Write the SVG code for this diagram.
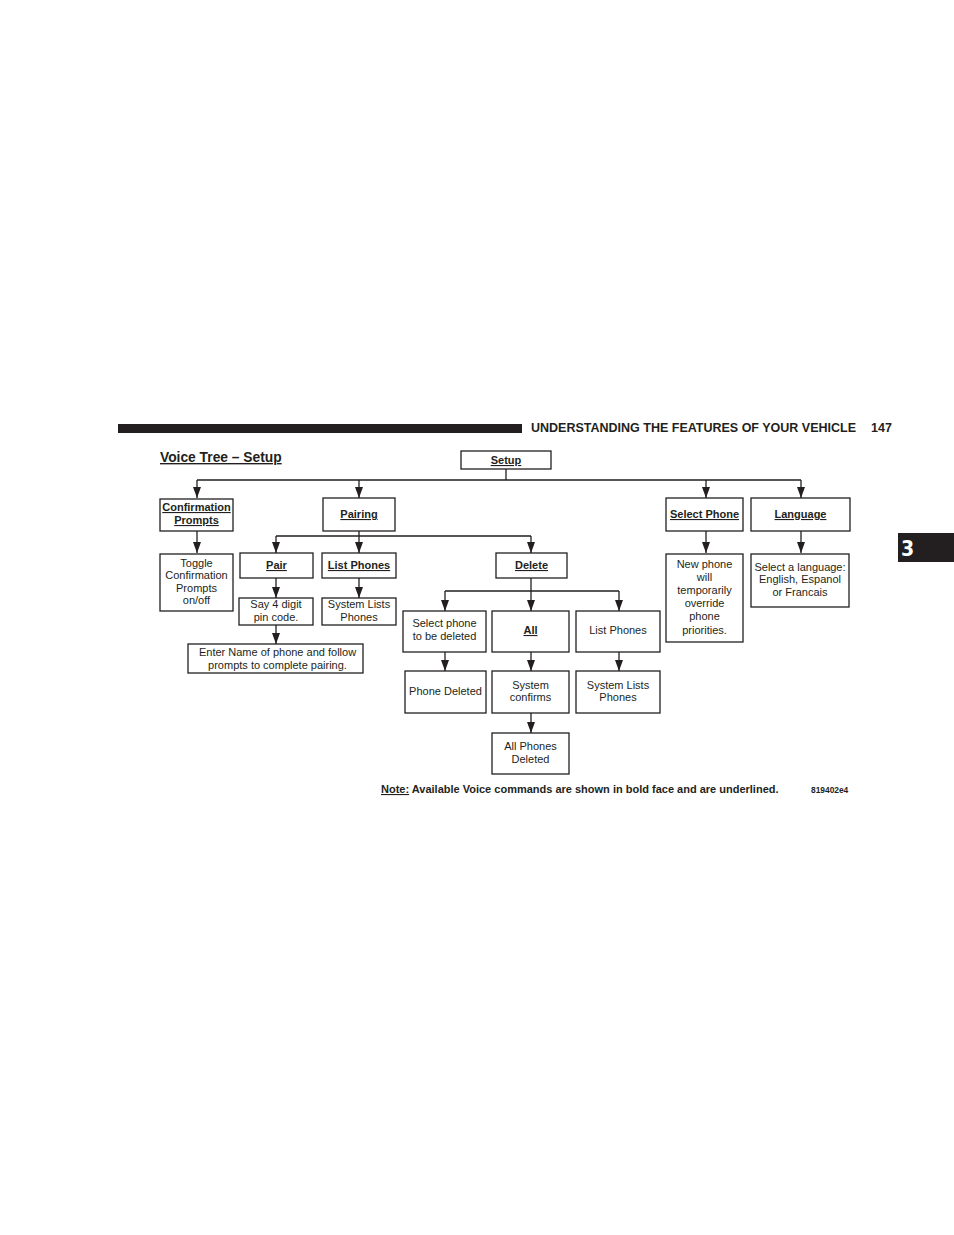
<svg xmlns="http://www.w3.org/2000/svg" width="954" height="1235" viewBox="0 0 954 1235">
<defs>
<marker id="arr" markerWidth="11" markerHeight="8" refX="11" refY="4" orient="auto" markerUnits="userSpaceOnUse" viewBox="0 0 11 8">
<path d="M0,0 L11,4 L0,8 Z" fill="#231f20"/>
</marker>
<style>
.box{fill:#fff;stroke:#231f20;stroke-width:1.3}
.t{font-family:"Liberation Sans",Arial,Helvetica,sans-serif;font-size:11px;fill:#231f20;text-anchor:middle}
.b{font-weight:bold;text-decoration:underline}
.ln{fill:none;stroke:#231f20;stroke-width:1.3}
.ar{fill:none;stroke:#231f20;stroke-width:1.3}
</style>
</defs>
<rect width="954" height="1235" fill="#fff"/>
<g id="header">
<rect x="118" y="424" width="404" height="9" fill="#231f20"/>
<text x="531" y="432" font-family="Liberation Sans,Arial,sans-serif" font-size="12.5" font-weight="bold" fill="#231f20">UNDERSTANDING THE FEATURES OF YOUR VEHICLE</text>
<text x="871" y="432" font-family="Liberation Sans,Arial,sans-serif" font-size="12.5" font-weight="bold" fill="#231f20">147</text>
<rect x="898" y="533" width="56" height="29" fill="#231f20"/>
<text x="901" y="556" font-family="'Liberation Sans Narrow','DejaVu Sans Condensed',sans-serif" font-size="21" font-weight="bold" fill="#fff">3</text>
<text x="160" y="462" font-family="Liberation Sans,Arial,sans-serif" font-size="13.8" font-weight="bold" text-decoration="underline" fill="#231f20">Voice Tree – Setup</text>
</g>
<g id="connectors">
<path class="ln" d="M506,469 V480 M197,480 H801"/>
<path class="ar" d="M197,480 V498" marker-end="url(#arr)"/>
<path class="ar" d="M359,480 V498" marker-end="url(#arr)"/>
<path class="ar" d="M706,480 V498" marker-end="url(#arr)"/>
<path class="ar" d="M801,480 V498" marker-end="url(#arr)"/>
<path class="ar" d="M197,531 V553" marker-end="url(#arr)"/>
<path class="ar" d="M706,531 V553" marker-end="url(#arr)"/>
<path class="ar" d="M801,531 V553" marker-end="url(#arr)"/>
<path class="ln" d="M359,531 V536 M276,536 H531"/>
<path class="ar" d="M276,536 V553" marker-end="url(#arr)"/>
<path class="ar" d="M359,536 V553" marker-end="url(#arr)"/>
<path class="ar" d="M531,536 V553" marker-end="url(#arr)"/>
<path class="ar" d="M276,578 V598" marker-end="url(#arr)"/>
<path class="ar" d="M359,578 V598" marker-end="url(#arr)"/>
<path class="ar" d="M276,625 V644" marker-end="url(#arr)"/>
<path class="ln" d="M531,578 V591 M445,591 H619"/>
<path class="ar" d="M445,591 V611" marker-end="url(#arr)"/>
<path class="ar" d="M531,591 V611" marker-end="url(#arr)"/>
<path class="ar" d="M619,591 V611" marker-end="url(#arr)"/>
<path class="ar" d="M445,652 V671" marker-end="url(#arr)"/>
<path class="ar" d="M531,652 V671" marker-end="url(#arr)"/>
<path class="ar" d="M619,652 V671" marker-end="url(#arr)"/>
<path class="ar" d="M531,713 V733" marker-end="url(#arr)"/>
</g>
<g id="setup"><rect class="box" x="461" y="451" width="90" height="18"/><text class="t b" x="506" y="464">Setup</text></g>
<g id="confirmation"><rect class="box" x="160" y="499" width="73" height="32"/><text class="t b" x="196.5" y="511">Confirmation</text><text class="t b" x="196.5" y="524">Prompts</text></g>
<g id="pairing"><rect class="box" x="323" y="498" width="72" height="33"/><text class="t b" x="359" y="518">Pairing</text></g>
<g id="selectphone"><rect class="box" x="666" y="498" width="77" height="33"/><text class="t b" x="704.5" y="518">Select Phone</text></g>
<g id="language"><rect class="box" x="751" y="498" width="99" height="33"/><text class="t b" x="800.5" y="518">Language</text></g>
<g id="toggle"><rect class="box" x="160" y="554" width="73" height="57"/><text class="t" x="196.5" y="567">Toggle</text><text class="t" x="196.5" y="579">Confirmation</text><text class="t" x="196.5" y="592">Prompts</text><text class="t" x="196.5" y="604">on/off</text></g>
<g id="pair"><rect class="box" x="240" y="553" width="73" height="25"/><text class="t b" x="276.5" y="569">Pair</text></g>
<g id="listphones"><rect class="box" x="322" y="553" width="74" height="25"/><text class="t b" x="359" y="569">List Phones</text></g>
<g id="delete"><rect class="box" x="496" y="553" width="71" height="25"/><text class="t b" x="531.5" y="569">Delete</text></g>
<g id="say4"><rect class="box" x="239" y="598" width="74" height="27"/><text class="t" x="276" y="608">Say 4 digit</text><text class="t" x="276" y="621">pin code.</text></g>
<g id="syslists1"><rect class="box" x="322" y="598" width="74" height="27"/><text class="t" x="359" y="608">System Lists</text><text class="t" x="359" y="621">Phones</text></g>
<g id="entername"><rect class="box" x="188" y="644" width="175" height="29"/><text class="t" x="277.5" y="656">Enter Name of phone and follow</text><text class="t" x="277.5" y="669">prompts to complete pairing.</text></g>
<g id="newphone"><rect class="box" x="666" y="554" width="77" height="88"/><text class="t" x="704.5" y="568">New phone</text><text class="t" x="704.5" y="581">will</text><text class="t" x="704.5" y="594">temporarily</text><text class="t" x="704.5" y="607">override</text><text class="t" x="704.5" y="620">phone</text><text class="t" x="704.5" y="634">priorities.</text></g>
<g id="selectlang"><rect class="box" x="751" y="554" width="98" height="53"/><text class="t" x="800" y="571">Select a language:</text><text class="t" x="800" y="583">English, Espanol</text><text class="t" x="800" y="596">or Francais</text></g>
<g id="selectdel"><rect class="box" x="403" y="611" width="83" height="41"/><text class="t" x="444.5" y="627">Select phone</text><text class="t" x="444.5" y="640">to be deleted</text></g>
<g id="all"><rect class="box" x="492" y="611" width="77" height="41"/><text class="t b" x="530.5" y="634">All</text></g>
<g id="listphones2"><rect class="box" x="576" y="611" width="84" height="41"/><text class="t" x="618" y="634">List Phones</text></g>
<g id="phonedeleted"><rect class="box" x="405" y="671" width="81" height="42"/><text class="t" x="445.5" y="695">Phone Deleted</text></g>
<g id="sysconfirms"><rect class="box" x="492" y="671" width="77" height="42"/><text class="t" x="530.5" y="689">System</text><text class="t" x="530.5" y="701">confirms</text></g>
<g id="syslists2"><rect class="box" x="576" y="671" width="84" height="42"/><text class="t" x="618" y="689">System Lists</text><text class="t" x="618" y="701">Phones</text></g>
<g id="allphones"><rect class="box" x="492" y="733" width="77" height="41"/><text class="t" x="530.5" y="750">All Phones</text><text class="t" x="530.5" y="763">Deleted</text></g>
<g id="note">
<text x="381" y="793" font-family="Liberation Sans,Arial,sans-serif" font-size="11" font-weight="bold" fill="#231f20"><tspan text-decoration="underline">Note:</tspan> Available Voice commands are shown in bold face and are underlined.</text>
<text x="811" y="793" font-family="Liberation Sans,Arial,sans-serif" font-size="8.4" font-weight="bold" fill="#231f20">819402e4</text>
</g>
</svg>
